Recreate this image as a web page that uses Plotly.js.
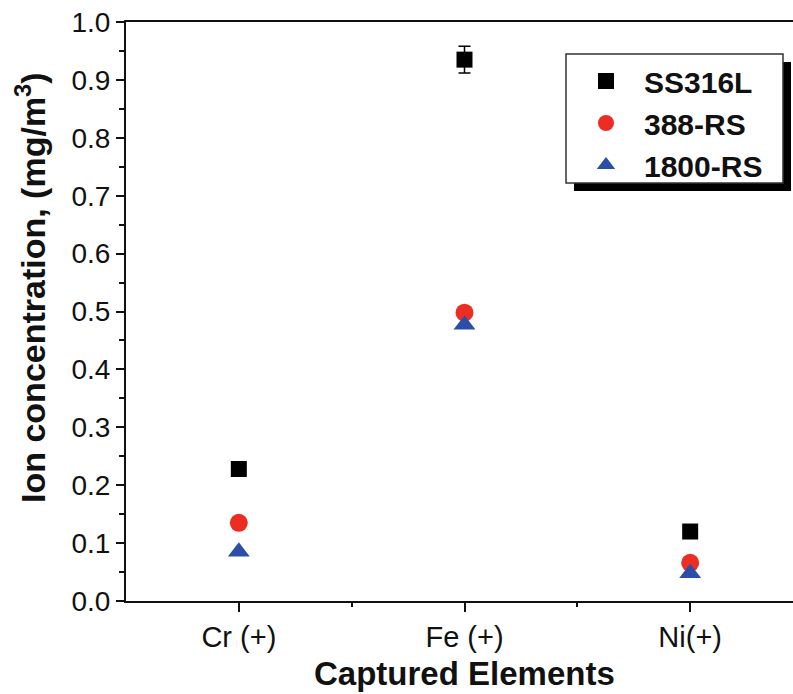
<!DOCTYPE html>
<html>
<head>
<meta charset="utf-8">
<script src="https://cdn.plot.ly/plotly-3.0.1.min.js"></script>
<style>
html, body { margin: 0; padding: 0; overflow: hidden; background: #fff; }
#chart { width: 812px; height: 694px; }
</style>
</head>
<body>
<div id="chart"></div>
<script>
// Data
const categories = ['Cr (+)', 'Fe (+)', 'Ni(+)'];
const seriesNames = ['SS316L', '388-RS', '1800-RS'];
const ss316L = [0.228, 0.935, 0.120];
const ss316LErr = [0.004, 0.023, 0.004];
const rs388 = [0.135, 0.498, 0.066];
const rs1800 = [0.085, 0.477, 0.048];
const yTickVals = [0, 0.1, 0.2, 0.3, 0.4, 0.5, 0.6, 0.7, 0.8, 0.9, 1.0];
const yTickText = ['0.0', '0.1', '0.2', '0.3', '0.4', '0.5', '0.6', '0.7', '0.8', '0.9', '1.0'];

const xPos = categories.map((c, i) => i + 1);

const traces = [
  {
    x: xPos, y: ss316L, name: seriesNames[0], type: 'scatter', mode: 'markers',
    marker: { symbol: 'square', size: 16, color: '#000000' },
    error_y: { type: 'data', array: ss316LErr, visible: true, color: '#000000', thickness: 1.5, width: 6 }
  },
  {
    x: xPos, y: rs388, name: seriesNames[1], type: 'scatter', mode: 'markers',
    marker: { symbol: 'circle', size: 18, color: '#ec2d24' }
  },
  {
    x: xPos, y: rs1800, name: seriesNames[2], type: 'scatter', mode: 'markers',
    marker: { symbol: 'triangle-up', size: 19, color: '#2b4fa8' }
  }
];

const layout = {
  width: 812,
  height: 694,
  margin: { l: 126, r: 9, t: 22, b: 93 },
  paper_bgcolor: '#ffffff',
  plot_bgcolor: '#ffffff',
  font: { family: 'Arial, Liberation Sans, sans-serif', color: '#111111' },
  showlegend: true,
  legend: {
    xref: 'paper', yref: 'paper',
    bgcolor: 'rgba(0,0,0,0)',
    borderwidth: 0,
    font: { size: 30, family: 'Arial, Liberation Sans, sans-serif', color: '#111111', weight: 'bold' },
    itemwidth: 66,
    tracegroupgap: 0
  },
  xaxis: {
    range: [0.5, 3.5],
    tickmode: 'array',
    tickvals: xPos,
    ticktext: categories,
    ticks: 'outside', ticklen: 9, tickwidth: 2, tickcolor: '#111',
    minor: { tickmode: 'array', tickvals: [1.5, 2.5], ticks: 'outside', ticklen: 4, tickwidth: 2, tickcolor: '#111' },
    showline: true, linecolor: '#111', linewidth: 2, mirror: true,
    showgrid: false, zeroline: false,
    tickfont: { size: 29, color: '#111' }
  },
  yaxis: {
    range: [0, 1],
    tickmode: 'array',
    tickvals: yTickVals,
    ticktext: yTickText,
    ticks: 'outside', ticklen: 8, tickwidth: 2, tickcolor: '#111',
    minor: { dtick: 0.05, tick0: 0, ticks: 'outside', ticklen: 5, tickwidth: 2, tickcolor: '#111' },
    showline: true, linecolor: '#111', linewidth: 2, mirror: true,
    showgrid: false, zeroline: false,
    tickfont: { size: 28, color: '#111' }
  },
  annotations: [
    {
      xref: 'paper', yref: 'paper',
      text: 'Ion concentration, (mg/m<sup>3</sup>)',
      showarrow: false, textangle: -90,
      font: { size: 34, weight: 'bold', color: '#111' }
    },
    {
      xref: 'paper', yref: 'paper',
      text: 'Captured Elements',
      showarrow: false,
      font: { size: 33, weight: 'bold', color: '#111' }
    }
  ],
  shapes: []
};

// convert pixel locations into paper coordinates
const plotW = layout.width - layout.margin.l - layout.margin.r;
const plotH = layout.height - layout.margin.t - layout.margin.b;
function px2x(px) { return (px - layout.margin.l) / plotW; }
function px2y(py) { return (layout.height - layout.margin.b - py) / plotH; }

layout.legend.x = px2x(568);
layout.legend.y = px2y(55);
layout.annotations[0].x = px2x(30);
layout.annotations[0].xanchor = 'center';
layout.annotations[0].y = px2y(288);
layout.annotations[0].yanchor = 'middle';
layout.annotations[1].x = px2x(464);
layout.annotations[1].xanchor = 'center';
layout.annotations[1].y = px2y(673);
layout.annotations[1].yanchor = 'middle';

layout.shapes.push({
  type: 'rect', xref: 'paper', yref: 'paper', layer: 'above',
  x0: px2x(574), x1: px2x(791), y0: px2y(62), y1: px2y(191),
  fillcolor: '#000', line: { width: 0 }
});
layout.shapes.push({
  type: 'rect', xref: 'paper', yref: 'paper', layer: 'above',
  x0: px2x(566), x1: px2x(783), y0: px2y(54), y1: px2y(183),
  fillcolor: '#fff', line: { width: 1.5, color: '#333' }
});

Plotly.newPlot('chart', traces, layout, { staticPlot: true, displayModeBar: false });
</script>
</body>
</html>
